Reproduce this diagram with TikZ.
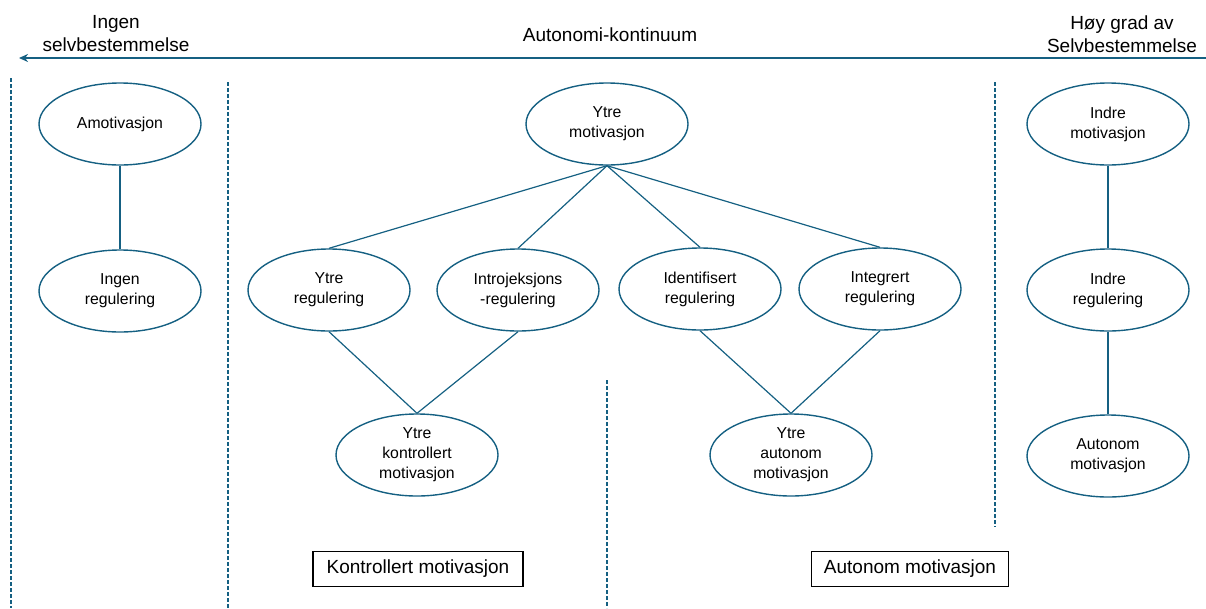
\documentclass[tikz,border=0pt]{standalone}
\usepackage{fontspec}
\setmainfont{Liberation Sans}
\usetikzlibrary{shapes.geometric,arrows.meta}
\definecolor{blaa}{HTML}{156082}
\begin{document}
\begin{tikzpicture}[x=1pt,y=-1pt]
    \tikzset{boble/.style={draw=blaa, line width=1.4pt, ellipse, minimum width=162pt, minimum height=82pt, inner sep=0pt, align=center, font=\fontsize{15.8}{20}\selectfont}}
    \tikzset{kant/.style={blaa, line width=1.2pt}}
    \tikzset{skille/.style={blaa, line width=1.1pt, dash pattern=on 4pt off 2pt}}
    \tikzset{ramme/.style={draw=black, line width=1.6pt, minimum width=210pt, minimum height=35pt, inner sep=0pt, font=\fontsize{19}{22}\selectfont}}
    \tikzset{tekst/.style={align=center, font=\fontsize{19}{23}\selectfont}}
    \useasboundingbox (0,0) rectangle (1206,608);
    % kontinuum
    \coordinate (hoyre) at (1206,58);
    \coordinate (venstre) at (19,58);
    \draw[blaa, line width=2pt, -{Stealth[length=9pt,width=8pt]}] (hoyre) -- (venstre);
    \node[tekst] (ingen) at (116,34) {Ingen\\selvbestemmelse};
    \node[tekst] (kontinuum) at (610,35) {Autonomi-kontinuum};
    \node[tekst] (hoy) at (1122,34) {Høy grad av\\Selvbestemmelse};
    % skillelinjer
    \coordinate (s1a) at (11,78);   \coordinate (s1b) at (11,608);
    \coordinate (s2a) at (228,82);  \coordinate (s2b) at (228,608);
    \coordinate (s3a) at (607,380); \coordinate (s3b) at (607,608);
    \coordinate (s4a) at (995,82);  \coordinate (s4b) at (995,527);
    \draw[skille] (s1a) -- (s1b);
    \draw[skille] (s2a) -- (s2b);
    \draw[skille] (s3a) -- (s3b);
    \draw[skille] (s4a) -- (s4b);
    % bobler
    \node[boble] (amot) at (120,124) {Amotivasjon};
    \node[boble] (ingreg) at (120,291) {Ingen\\regulering};
    \node[boble] (ytmot) at (607,124) {Ytre\\motivasjon};
    \node[boble] (ytreg) at (329,290) {Ytre\\regulering};
    \node[boble] (intro) at (518,290) {Introjeksjons\\-regulering};
    \node[boble] (ident) at (700,289) {Identifisert\\regulering};
    \node[boble] (integ) at (880,289) {Integrert\\regulering};
    \node[boble] (ytkon) at (417,455) {Ytre\\kontrollert\\motivasjon};
    \node[boble] (ytaut) at (791,455) {Ytre\\autonom\\motivasjon};
    \node[boble] (inmot) at (1108,124) {Indre\\motivasjon};
    \node[boble] (inreg) at (1108,290) {Indre\\regulering};
    \node[boble] (autmot) at (1108,456) {Autonom\\motivasjon};
    % rammer
    \node[ramme] (kontroll) at (418,569) {Kontrollert motivasjon};
    \node[ramme, minimum width=197pt] (autonom) at (910,569) {Autonom motivasjon};
    % kanter
    \draw[kant] (amot) -- (ingreg);
    \draw[kant] (ytmot.south) -- (ytreg.north);
    \draw[kant] (ytmot.south) -- (intro.north);
    \draw[kant] (ytmot.south) -- (ident.north);
    \draw[kant] (ytmot.south) -- (integ.north);
    \draw[kant] (ytreg.south) -- (ytkon.north);
    \draw[kant] (intro.south) -- (ytkon.north);
    \draw[kant] (ident.south) -- (ytaut.north);
    \draw[kant] (integ.south) -- (ytaut.north);
    \draw[kant] (inmot) -- (inreg);
    \draw[kant] (inreg) -- (autmot);
  \end{tikzpicture}
\end{document}
